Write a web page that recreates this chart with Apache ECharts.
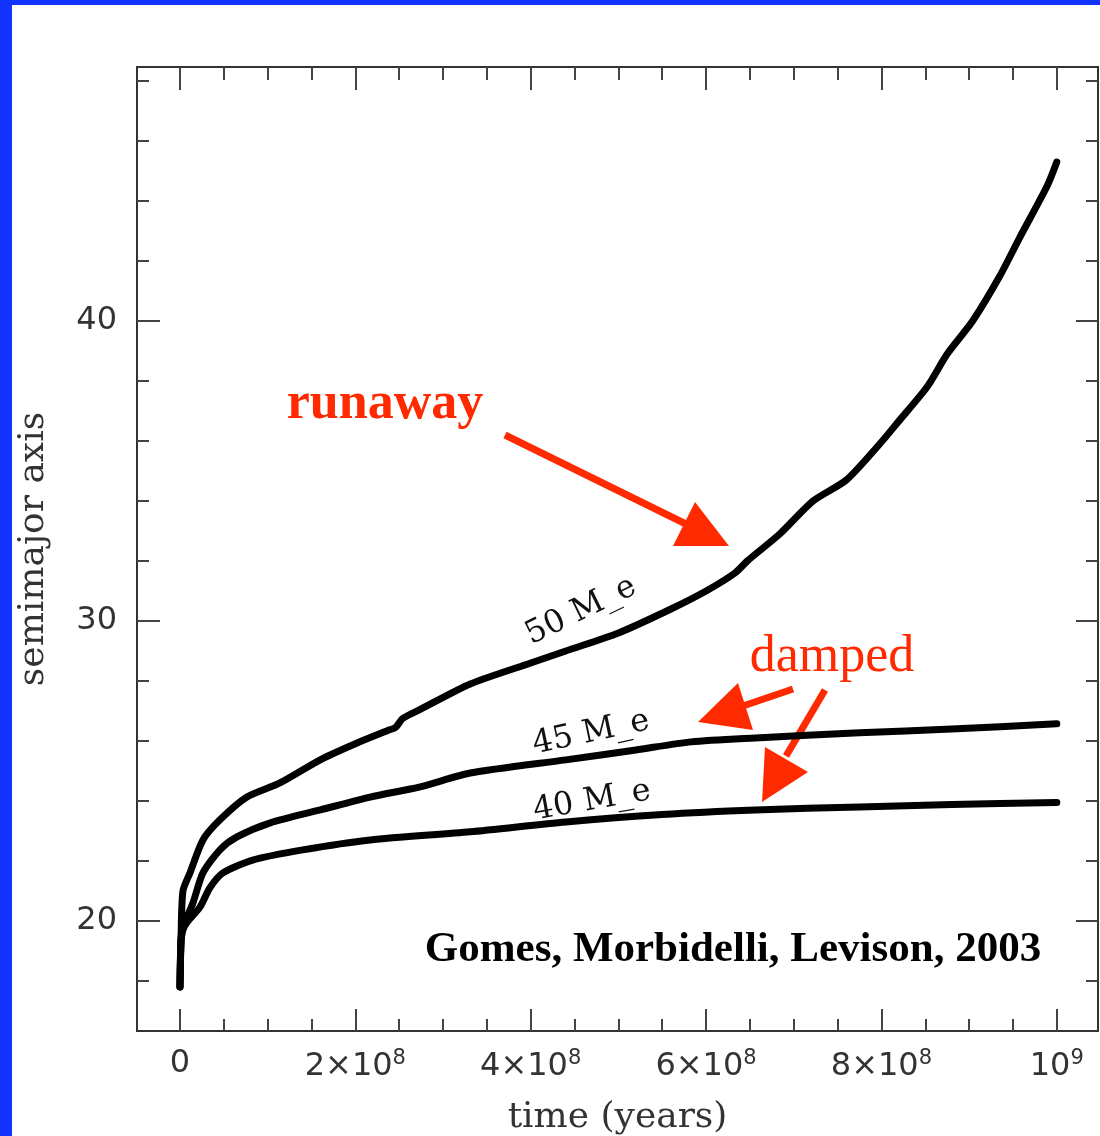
<!DOCTYPE html>
<html>
<head>
<meta charset="utf-8">
<script src="https://cdn.jsdelivr.net/npm/echarts@6/dist/echarts.min.js"></script>
<style>
html, body { margin: 0; padding: 0; background: #1232fe; }
#paper { position: absolute; left: 12px; top: 5px; width: 1088px; height: 1131px; background: #fff; }
#main { position: absolute; left: 0; top: 0; width: 1100px; height: 1136px; }
</style>
</head>
<body>
<div id="paper"></div>
<div id="main"></div>
<script>
// time in units of 10^8 years, semimajor axis in AU
const time50 = [0, 0.012, 0.034, 0.114, 0.262, 0.456, 0.764, 1.14, 1.6, 2.02, 2.39, 2.46, 2.54, 2.74, 3.31, 4.0, 4.4, 5.0, 5.6, 6.0, 6.33, 6.47, 6.84, 7.22, 7.6, 7.98, 8.18, 8.52, 8.75, 9.04, 9.35, 9.58, 9.89, 10.0]
const axis50 = [17.8, 19.4, 21.0, 21.6, 22.7, 23.37, 24.13, 24.6, 25.37, 25.93, 26.37, 26.45, 26.75, 27.05, 27.9, 28.6, 29.0, 29.6, 30.4, 31.0, 31.6, 32.0, 32.9, 34.0, 34.7, 35.9, 36.6, 37.8, 38.9, 40.0, 41.5, 42.8, 44.5, 45.3]

const time45 = [0, 0.012, 0.034, 0.148, 0.262, 0.456, 0.65, 1.03, 1.6, 2.17, 2.74, 3.31, 4.4, 5.2, 5.83, 6.56, 7.75, 8.8, 10.0]
const axis45 = [17.8, 19.4, 19.8, 20.6, 21.6, 22.37, 22.8, 23.27, 23.7, 24.13, 24.47, 24.93, 25.37, 25.7, 25.97, 26.1, 26.27, 26.4, 26.57]

const time40 = [0, 0.012, 0.034, 0.08, 0.23, 0.34, 0.49, 0.83, 1.4, 2.17, 3.31, 4.4, 5.5, 6.56, 7.75, 8.8, 10.0]
const axis40 = [17.8, 19.3, 19.7, 19.95, 20.47, 21.1, 21.6, 22.03, 22.37, 22.7, 22.97, 23.3, 23.55, 23.7, 23.8, 23.88, 23.95]

const majorX = [0, 2, 4, 6, 8, 10]
const minorX = [0.5, 1, 1.5, 2.5, 3, 3.5, 4.5, 5, 5.5, 6.5, 7, 7.5, 8.5, 9, 9.5]
const majorY = [20, 30, 40]
const minorY = [18, 22, 24, 26, 28, 32, 34, 36, 38, 42, 44, 46, 48]

const xLabels = ['0', '{n|2×10}{s|8}', '{n|4×10}{s|8}', '{n|6×10}{s|8}', '{n|8×10}{s|8}', '{n|10}{s|9}']

const xMin = -0.49, xMax = 10.47
const yMin = 16.33, yMax = 48.47

const tickColor = '#444'
const numFont = '"DejaVu Sans", sans-serif'
const serifFont = '"DejaVu Serif", serif'
const red = '#ff2a00'

const pairs = (t, a) => t.map((v, i) => [v, a[i]])

const chart = echarts.init(document.getElementById('main'))

function xAxisFor(grid, pos, ticks, len, withLabels) {
  return {
    type: 'value', gridIndex: grid, position: pos, min: xMin, max: xMax,
    splitLine: { show: false },
    axisLine: { show: false, onZero: false },
    axisTick: { show: true, inside: true, length: len, customValues: ticks,
      lineStyle: { color: tickColor, width: 2 } },
    axisLabel: withLabels ? {
      show: true, customValues: majorX, margin: 17, color: '#333',
      fontFamily: numFont, fontSize: 32,
      formatter: v => xLabels[majorX.indexOf(Math.round(v))],
      rich: {
        n: { fontFamily: numFont, fontSize: 32, lineHeight: 38, color: '#333' },
        s: { fontFamily: numFont, fontSize: 21, lineHeight: 22, verticalAlign: 'top', color: '#333' }
      }
    } : { show: false },
    name: withLabels ? 'time (years)' : '',
    nameLocation: 'middle', nameGap: 69,
    nameTextStyle: { fontFamily: serifFont, fontSize: 36, color: '#333' }
  }
}

function yAxisFor(grid, pos, ticks, len, withLabels) {
  return {
    type: 'value', gridIndex: grid, position: pos, min: yMin, max: yMax,
    splitLine: { show: false },
    axisLine: { show: false, onZero: false },
    axisTick: { show: true, inside: true, length: len, customValues: ticks,
      lineStyle: { color: tickColor, width: 2 } },
    axisLabel: withLabels ? {
      show: true, customValues: majorY, margin: 20, color: '#333',
      fontFamily: numFont, fontSize: 32
    } : { show: false },
    name: withLabels ? 'semimajor axis' : '',
    nameLocation: 'middle', nameGap: 85, nameRotate: 90,
    nameTextStyle: { fontFamily: serifFont, fontSize: 36, color: '#333' }
  }
}

const gridBox = { left: 137, top: 67, width: 961, height: 964, containLabel: false, outerBoundsMode: 'none' }

const option = {
  animation: false,
  backgroundColor: 'transparent',
  grid: [
    Object.assign({ show: true, borderColor: '#333', borderWidth: 2, backgroundColor: 'transparent' }, gridBox),
    Object.assign({ show: false }, gridBox)
  ],
  xAxis: [
    xAxisFor(0, 'bottom', majorX, 22, true),
    xAxisFor(0, 'top', majorX, 23, false),
    xAxisFor(1, 'bottom', minorX, 12, false),
    xAxisFor(1, 'top', minorX, 13, false)
  ],
  yAxis: [
    yAxisFor(0, 'left', majorY, 23, true),
    yAxisFor(0, 'right', majorY, 22, false),
    yAxisFor(1, 'left', minorY, 12, false),
    yAxisFor(1, 'right', minorY, 12, false)
  ],
  series: [
    { name: '50 M_e', type: 'line', data: pairs(time50, axis50) },
    { name: '45 M_e', type: 'line', data: pairs(time45, axis45) },
    { name: '40 M_e', type: 'line', data: pairs(time40, axis40) }
  ].map(s => Object.assign(s, {
    xAxisIndex: 0, yAxisIndex: 0, showSymbol: false, symbol: 'none', smooth: 0.25,
    lineStyle: { color: '#000', width: 7, cap: 'round', join: 'round' }
  })),
  graphic: [
    // curve labels
    { type: 'text', x: 581, y: 611, rotation: 26 * Math.PI / 180,
      style: { text: '50 M_e', font: '32px ' + serifFont, fill: '#111', align: 'center', verticalAlign: 'middle' } },
    { type: 'text', x: 591, y: 733, rotation: 12 * Math.PI / 180,
      style: { text: '45 M_e', font: '32px ' + serifFont, fill: '#111', align: 'center', verticalAlign: 'middle' } },
    { type: 'text', x: 592, y: 801, rotation: 10 * Math.PI / 180,
      style: { text: '40 M_e', font: '32px ' + serifFont, fill: '#111', align: 'center', verticalAlign: 'middle' } },
    // citation
    { type: 'text', x: 733, y: 950,
      style: { text: 'Gomes, Morbidelli, Levison, 2003', font: 'bold 43px "Liberation Serif", serif', fill: '#000', align: 'center', verticalAlign: 'middle' } },
    // red annotations
    { type: 'text', x: 385, y: 405,
      style: { text: 'runaway', font: 'bold 52px "Liberation Serif", serif', fill: red, align: 'center', verticalAlign: 'middle' } },
    { type: 'text', x: 832, y: 657,
      style: { text: 'damped', font: '52px "Liberation Serif", serif', fill: red, align: 'center', verticalAlign: 'middle' } },
    { type: 'line', shape: { x1: 505, y1: 435, x2: 690, y2: 526 }, style: { stroke: red, lineWidth: 7 } },
    { type: 'polygon', shape: { points: [[695, 502], [673, 546], [729, 546]] }, style: { fill: red } },
    { type: 'line', shape: { x1: 793, y1: 689, x2: 740, y2: 707 }, style: { stroke: red, lineWidth: 7 } },
    { type: 'polygon', shape: { points: [[698, 722], [738, 683], [753, 730]] }, style: { fill: red } },
    { type: 'line', shape: { x1: 825, y1: 690, x2: 786, y2: 756 }, style: { stroke: red, lineWidth: 7 } },
    { type: 'polygon', shape: { points: [[765, 747], [808, 772], [762, 802]] }, style: { fill: red } }
  ]
}

chart.setOption(option)
</script>
</body>
</html>
